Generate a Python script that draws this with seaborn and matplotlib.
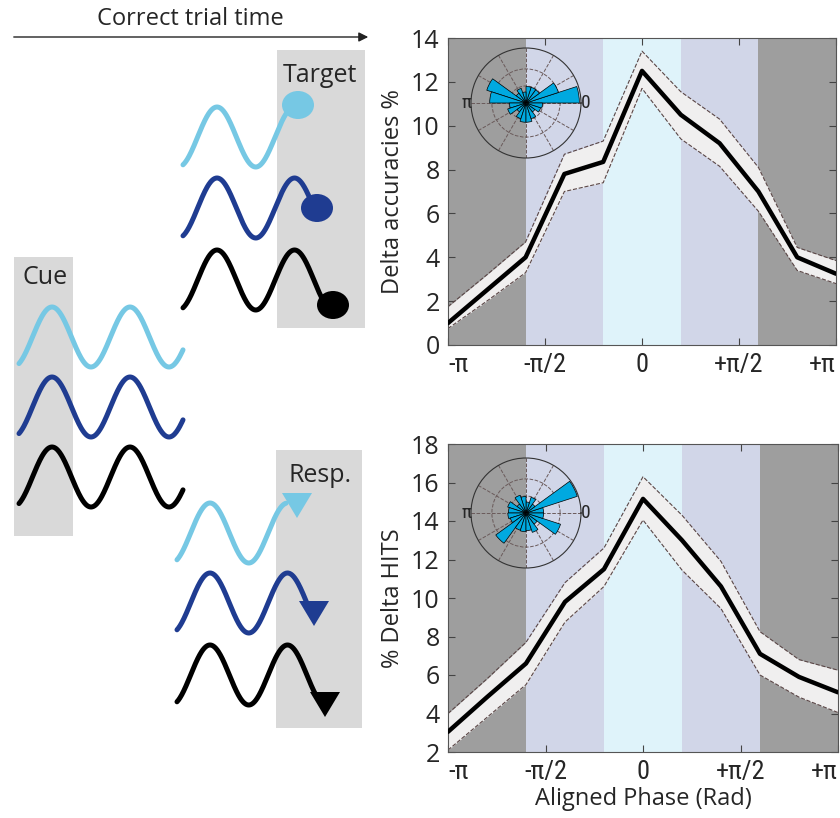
import numpy as np
import pandas as pd
import seaborn as sns
import matplotlib.pyplot as plt
from matplotlib.patches import Rectangle, Ellipse, Polygon

sns.set_style("ticks")
plt.rcParams['font.family'] = ['Open Sans', 'DejaVu Sans']
plt.rcParams['axes.unicode_minus'] = False
narrow = ['Roboto Condensed', 'DejaVu Sans']

# phase bins (multiples of pi/5)
phase_steps = [-5, -4, -3, -2, -1, 0, 1, 2, 3, 4, 5]

acc_mean = [1.0, 2.5, 4.0, 7.8, 8.35, 12.5, 10.5, 9.2, 7.0, 4.0, 3.25]
acc_upper = [1.75, 3.2, 4.7, 8.7, 9.3, 13.4, 11.55, 10.3, 8.1, 4.45, 3.85]
acc_lower = [0.75, 2.0, 3.3, 7.0, 7.4, 11.7, 9.4, 8.15, 6.1, 3.4, 2.8]

hits_mean = [3.05, 4.85, 6.6, 9.8, 11.5, 15.15, 13.0, 10.6, 7.1, 5.9, 5.1]
hits_upper = [4.0, 5.8, 7.7, 10.8, 12.6, 16.3, 14.3, 11.9, 8.25, 6.8, 6.25]
hits_lower = [2.1, 3.8, 5.5, 8.75, 10.6, 14.05, 11.45, 9.45, 6.0, 4.85, 4.05]

# rose histograms, 20 bins of 18 deg (relative length)
rose_acc = [0.97, 0.62, 0.30, 0.30, 0.30, 0.20, 0.28, 0.22, 0.75, 0.66,
            0.30, 0.35, 0.20, 0.30, 0.35, 0.35, 0.30, 0.20, 0.28, 0.30]
rose_hits = [0.32, 0.98, 0.20, 0.30, 0.20, 0.30, 0.34, 0.20, 0.35, 0.32,
             0.33, 0.30, 0.68, 0.33, 0.34, 0.32, 0.37, 0.25, 0.66, 0.32]

band_edges = [-5, -3, -1, 1, 3, 5]
band_colors = ['#9e9e9e', '#d1d6e8', '#dff3fa', '#d1d6e8', '#9e9e9e']
xtick_labels = ['-π', '-π/2', '0', '+π/2', '+π']

wave_colors = ['#76c8e4', '#1f3c91', '#000000']

fig = plt.figure(figsize=(8.4, 8.18), dpi=100)

# ---------- schematic on the left (pixel coordinates) ----------
ax0 = fig.add_axes([0, 0, 1, 1])
ax0.set_xlim(0, 840)
ax0.set_ylim(818, 0)
ax0.axis('off')

for (x, y, w, h) in [(277, 50, 88, 278), (14, 257, 59, 279), (276, 450, 86, 278)]:
    ax0.add_patch(Rectangle((x, y), w, h, color='#d9d9d9', lw=0))


def wave(x0, x1, peak_x, center, color, period=77.5, amp=30):
    x = np.linspace(x0, x1, 300)
    y = center - amp * np.cos(2 * np.pi * (x - peak_x) / period)
    ax0.plot(x, y, color=color, lw=3.6, solid_capstyle='round')


# cue
for c, yc in zip(wave_colors, [337, 407, 477]):
    wave(19, 183, 52, yc, c, period=78)
# target
for c, yc, xe, (ex, ey) in zip(wave_colors, [137, 208, 280], [294, 314, 330],
                               [(298, 105), (317, 208), (333, 305)]):
    wave(183, xe, 217, yc, c)
    ax0.add_patch(Ellipse((ex, ey), 32, 28, color=c, lw=0))
# response
for c, yc, xe, (tx, ty) in zip(wave_colors, [533, 603, 675], [286, 307, 318],
                               [(297, 493), (314, 601), (325, 692)]):
    wave(177, xe, 210, yc, c)
    ax0.add_patch(Polygon([(tx - 15, ty), (tx + 15, ty), (tx, ty + 25)],
                          closed=True, color=c, lw=0))

ax0.text(190, 19, 'Correct trial time', ha='center', va='center', fontsize=17)
ax0.annotate('', xy=(371, 37), xytext=(11, 37),
             arrowprops=dict(arrowstyle='-|>', color='#222222', lw=1,
                             mutation_scale=14))
ax0.text(320, 75, 'Target', ha='center', va='center', fontsize=18)
ax0.text(45, 277, 'Cue', ha='center', va='center', fontsize=18)
ax0.text(320, 475, 'Resp.', ha='center', va='center', fontsize=18)


# ---------- phase curves ----------
def phase_panel(rect, mean, upper, lower, ylim, yticks, ylabel, xlabel=None):
    ax = fig.add_axes(rect)
    df = pd.DataFrame({'phase': np.array(phase_steps) * np.pi / 5,
                       'mean': mean, 'upper': upper, 'lower': lower})
    for (a, b), col in zip(zip(band_edges[:-1], band_edges[1:]), band_colors):
        ax.axvspan(a * np.pi / 5, b * np.pi / 5, color=col, lw=0, zorder=0)
    ax.fill_between(df['phase'], df['lower'], df['upper'], color='#f0efef',
                    lw=0, zorder=1)
    sns.lineplot(data=df, x='phase', y='upper', ax=ax, color='#5a4646',
                 lw=0.8, linestyle='--', zorder=2)
    sns.lineplot(data=df, x='phase', y='lower', ax=ax, color='#5a4646',
                 lw=0.8, linestyle='--', zorder=2)
    sns.lineplot(data=df, x='phase', y='mean', ax=ax, color='black', lw=3.2,
                 zorder=3)
    ax.set_xlim(-np.pi, np.pi)
    ax.set_ylim(*ylim)
    ax.set_yticks(yticks)
    ax.set_xticks([-np.pi, -np.pi / 2, 0, np.pi / 2, np.pi])
    ax.set_xticklabels(xtick_labels, fontsize=19, family=narrow)
    labs = ax.get_xticklabels()
    labs[0].set_ha('left')
    labs[-1].set_ha('right')
    ax.tick_params(axis='y', labelsize=18)
    ax.tick_params(direction='in', length=5, width=0.8, color='#444444',
                   top=True, right=True, pad=6)
    for s in ax.spines.values():
        s.set_color('#555555')
        s.set_linewidth(0.8)
    ax.set_ylabel(ylabel, fontsize=17, labelpad=4)
    ax.set_xlabel(xlabel if xlabel else '', fontsize=17, labelpad=2)
    return ax


phase_panel([448 / 840, 1 - 345 / 818, 388 / 840, 307 / 818],
            acc_mean, acc_upper, acc_lower, (0, 14), range(0, 15, 2),
            'Delta accuracies %')
phase_panel([448 / 840, 1 - 752 / 818, 390 / 840, 308 / 818],
            hits_mean, hits_upper, hits_lower, (2, 18), range(2, 19, 2),
            '% Delta HITS', 'Aligned Phase (Rad)')


# ---------- rose insets ----------
def rose(cy, radii):
    pax = fig.add_axes([471 / 840, 1 - (cy + 55) / 818, 110 / 840, 110 / 818],
                       projection='polar')
    pax.patch.set_alpha(0)
    theta = np.deg2rad(np.arange(20) * 18)
    pax.bar(theta, radii, width=np.deg2rad(18), align='edge',
            color='#00a9e0', edgecolor='black', lw=0.5, zorder=3)
    pax.set_ylim(0, 1)
    pax.set_rticks([0.31, 0.62])
    pax.set_yticklabels([])
    angles = np.arange(0, 360, 30)
    pax.set_xticks(np.deg2rad(angles))
    pax.set_xticklabels(['0' if a == 0 else ('π' if a == 180 else '')
                         for a in angles], fontsize=14, family=narrow)
    pax.tick_params(axis='x', pad=-7)
    pax.grid(True, linestyle='--', color='#6a5a5a', lw=0.7)
    pax.spines['polar'].set_color('#333333')
    pax.spines['polar'].set_linewidth(0.8)
    pax.set_axisbelow(True)


rose(103, rose_acc)
rose(513, rose_hits)

fig.savefig('out.png', dpi=100)
